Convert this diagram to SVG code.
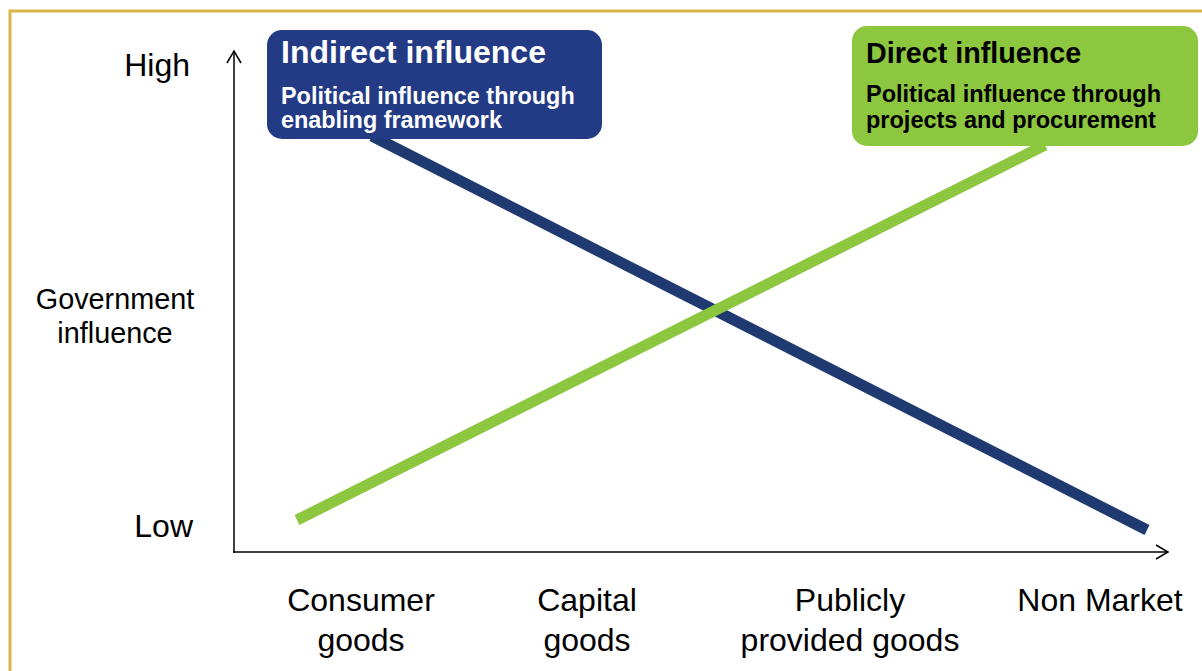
<svg xmlns="http://www.w3.org/2000/svg" width="1202" height="671" viewBox="0 0 1202 671">
<style>
.lbl{font-family:"Liberation Sans",Arial,sans-serif;font-size:32px;fill:#000}
.axlbl{font-family:"Liberation Sans",Arial,sans-serif;font-size:28.8px;fill:#000}
.bt{font-family:"Liberation Sans",Arial,sans-serif;font-weight:bold}
.axis{stroke:#000;stroke-width:1.5;fill:none}
</style>
<defs>
<marker id="arr" markerWidth="16" markerHeight="16" refX="13" refY="8" orient="auto" markerUnits="userSpaceOnUse">
<path d="M1,1 L13,8 L1,15" fill="none" stroke="#000" stroke-width="1.5"/>
</marker>
</defs>
<rect x="0" y="0" width="1202" height="671" fill="#fff"/>
<path d="M10,671 V11 H1202" fill="none" stroke="#D9B44A" stroke-width="3"/>
<g id="connectors">
<line class="axis" x1="234" y1="553" x2="234" y2="51" marker-end="url(#arr)"/>
<line class="axis" x1="233" y1="552" x2="1168" y2="552" marker-end="url(#arr)"/>
<line x1="372" y1="136" x2="1147" y2="530" stroke="#1F3A70" stroke-width="11"/>
<line x1="297" y1="520" x2="1045" y2="145" stroke="#8DC63F" stroke-width="11"/>
</g>
<g id="indirect">
<rect x="267" y="30" width="335" height="109" rx="15" fill="#233A84"/>
<text class="bt" x="281" y="63" font-size="32" fill="#fff">Indirect influence</text>
<text class="bt" x="281" y="104" font-size="23.4" fill="#fff">Political influence through</text>
<text class="bt" x="281" y="128" font-size="23.4" fill="#fff">enabling framework</text>
</g>
<g id="direct">
<rect x="852" y="26" width="346" height="120" rx="15" fill="#8DC63F"/>
<text class="bt" x="866" y="63" font-size="28.7" fill="#000">Direct influence</text>
<text class="bt" x="866" y="102" font-size="23.5" fill="#000">Political influence through</text>
<text class="bt" x="866" y="128" font-size="23.5" fill="#000">projects and procurement</text>
</g>
<g id="ylabels">
<text class="lbl" x="190" y="76" text-anchor="end">High</text>
<text class="lbl" x="193" y="537" text-anchor="end">Low</text>
<text class="axlbl" x="115" y="309" text-anchor="middle">Government</text>
<text class="axlbl" x="115" y="343" text-anchor="middle">influence</text>
</g>
<g id="xlabels">
<text class="lbl" x="361" y="611" text-anchor="middle">Consumer</text>
<text class="lbl" x="361" y="651" text-anchor="middle">goods</text>
<text class="lbl" x="587" y="611" text-anchor="middle">Capital</text>
<text class="lbl" x="587" y="651" text-anchor="middle">goods</text>
<text class="lbl" x="850" y="611" text-anchor="middle">Publicly</text>
<text class="lbl" x="850" y="651" text-anchor="middle">provided goods</text>
<text class="lbl" x="1100" y="611" text-anchor="middle">Non Market</text>
</g>
</svg>
